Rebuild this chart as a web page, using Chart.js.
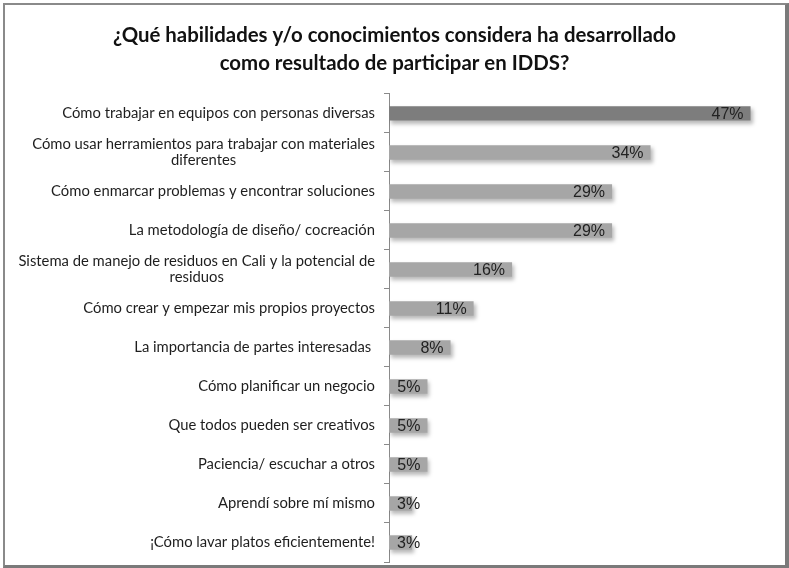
<!DOCTYPE html>
<html lang="es">
<head>
<meta charset="utf-8">
<title>Habilidades IDDS</title>
<script src="https://cdn.jsdelivr.net/npm/chart.js@4.4.1/dist/chart.umd.min.js"></script>
<style>
    html, body {
        margin: 0;
        padding: 0;
        background: #fff;
    }
    #wrap {
        position: relative;
        width: 789px;
        height: 568px;
        overflow: hidden;
    }
    #frame {
        position: absolute;
        left: 3px;
        top: 3px;
        width: 786px;
        height: 565px;
        box-sizing: border-box;
        border-left: 2px solid #8a8a8a;
        border-top: 2px solid #8a8a8a;
        border-right: 4px solid #7a7a7a;
        border-bottom: 3px solid #7a7a7a;
        pointer-events: none;
    }
</style>
</head>
<body>
<div id="wrap">
    <canvas id="skillsChart" width="789" height="568"></canvas>
    <div id="frame"></div>
</div>

<script>
/* =========================
   DATA
========================= */

const titleLines = [
    "¿Qué habilidades y/o conocimientos considera ha desarrollado",
    "como resultado de participar en IDDS?"
];

const categories = [
    "Cómo trabajar en equipos con personas diversas",
    "Cómo usar herramientos para trabajar con materiales\ndiferentes",
    "Cómo enmarcar problemas y encontrar soluciones",
    "La metodología de diseño/ cocreación",
    "Sistema de manejo de residuos en Cali y la potencial de\nresiduos",
    "Cómo crear y empezar mis propios proyectos",
    "La importancia de partes interesadas ",
    "Cómo planificar un negocio",
    "Que todos pueden ser creativos",
    "Paciencia/ escuchar a otros",
    "Aprendí sobre mí mismo",
    "¡Cómo lavar platos eficientemente!"
];

const percentages = [47, 34, 29, 29, 16, 11, 8, 5, 5, 5, 3, 3];

const axisMax = 52;


/* =========================
   PLUGINS
========================= */

// soft drop shadow under the bars
const barShadow = {
    id: "barShadow",
    beforeDatasetsDraw(chart) {
        const ctx = chart.ctx;
        ctx.save();
        ctx.shadowColor = "rgba(0, 0, 0, 0.28)";
        ctx.shadowBlur = 4;
        ctx.shadowOffsetX = 2;
        ctx.shadowOffsetY = 3;
    },
    afterDatasetsDraw(chart) {
        chart.ctx.restore();
    }
};

// category names left of the axis, extra lines centred under the first
const categoryLabels = {
    id: "categoryLabels",
    afterDraw(chart) {
        const ctx = chart.ctx;
        const yScale = chart.scales.y;
        const right = chart.chartArea.left - 14;
        const lineHeight = 16;

        ctx.save();
        ctx.font = "14.8px Lato";
        ctx.fillStyle = "#1e1e1e";
        ctx.textAlign = "center";
        ctx.textBaseline = "middle";

        categories.forEach((label, i) => {
            const lines = label.split("\n");
            const widest = Math.max(...lines.map(l => ctx.measureText(l).width));
            const cx = right - widest / 2;
            const cy = yScale.getPixelForValue(i);
            const startY = cy - (lines.length - 1) * lineHeight / 2;

            lines.forEach((line, j) => {
                ctx.fillText(line, cx, startY + j * lineHeight);
            });
        });
        ctx.restore();
    }
};

// percentage text at the end of each bar
const valueLabels = {
    id: "valueLabels",
    afterDraw(chart) {
        const ctx = chart.ctx;
        const meta = chart.getDatasetMeta(0);
        const left = chart.chartArea.left;

        ctx.save();
        ctx.font = "16px 'Liberation Sans', Arial";
        ctx.fillStyle = "#222";
        ctx.textAlign = "right";
        ctx.textBaseline = "middle";

        meta.data.forEach((bar, i) => {
            const text = percentages[i] + "%";
            const w = ctx.measureText(text).width;
            const x = Math.max(bar.x - 7, left + 8 + w);
            ctx.fillText(text, x, bar.y + 1);
        });
        ctx.restore();
    }
};


/* =========================
   CHART
========================= */

document.addEventListener("DOMContentLoaded", () => {
    renderSkillsChart();
});

function renderSkillsChart() {
    if (typeof Chart === "undefined") return;

    const ctx = document.getElementById("skillsChart");
    if (!ctx) return;

    new Chart(ctx, {
        type: "bar",
        data: {
            labels: categories,
            datasets: [{
                data: percentages,
                backgroundColor: percentages.map((v, i) => i === 0 ? "#7d7d7d" : "#a6a6a6"),
                borderWidth: 0,
                categoryPercentage: 1,
                barPercentage: 0.37
            }]
        },
        options: {
            indexAxis: "y",
            responsive: false,
            animation: false,
            layout: {
                padding: { top: 21, right: 0, bottom: 6, left: 0 }
            },
            plugins: {
                legend: { display: false },
                tooltip: { enabled: false },
                title: {
                    display: true,
                    text: titleLines,
                    color: "#111",
                    font: { family: "Lato", size: 20.4, weight: "bold", lineHeight: 1.37 },
                    padding: { top: 0, bottom: 17 }
                }
            },
            scales: {
                x: {
                    display: false,
                    min: 0,
                    max: axisMax
                },
                y: {
                    ticks: { display: false },
                    grid: {
                        drawOnChartArea: false,
                        drawTicks: true,
                        tickLength: 5,
                        color: "#8a8a8a"
                    },
                    border: { display: true, color: "#8a8a8a", width: 1 },
                    afterFit(scale) {
                        scale.width = 389;
                    }
                }
            }
        },
        plugins: [barShadow, categoryLabels, valueLabels]
    });
}
</script>
</body>
</html>
